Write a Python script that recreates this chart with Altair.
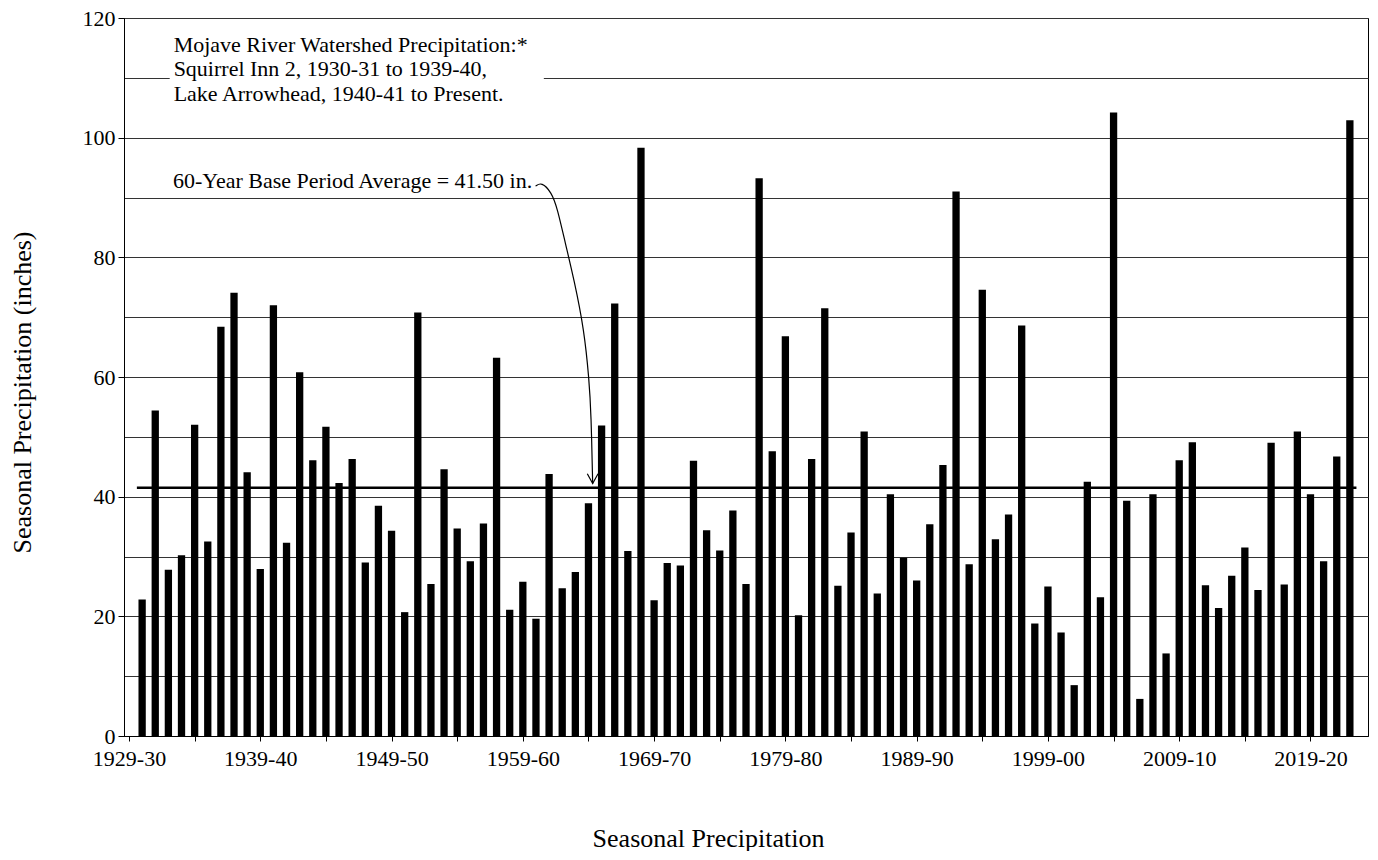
import altair as alt
import pandas as pd

# Seasons 1930-31 .. 2022-23 (start year of each season)
start_years = list(range(1930, 2023))
precip = [22.8, 54.4, 27.8, 30.2, 52.0, 32.5, 68.4, 74.1, 44.1, 27.9,
          72.0, 32.3, 60.8, 46.1, 51.7, 42.3, 46.3, 29.0, 38.5, 34.3,
          20.7, 70.8, 25.4, 44.6, 34.7, 29.2, 35.5, 63.2, 21.1, 25.8,
          19.6, 43.8, 24.7, 27.4, 38.9, 51.9, 72.3, 30.9, 98.3, 22.7,
          28.9, 28.5, 46.0, 34.4, 31.0, 37.7, 25.4, 93.2, 47.6, 66.8,
          20.2, 46.3, 71.5, 25.1, 34.0, 50.9, 23.8, 40.4, 29.8, 26.0,
          35.4, 45.3, 91.0, 28.7, 74.6, 32.9, 37.0, 68.6, 18.8, 25.0,
          17.3, 8.5, 42.5, 23.2, 104.2, 39.3, 6.2, 40.4, 13.8, 46.1,
          49.1, 25.2, 21.4, 26.8, 31.5, 24.4, 49.0, 25.3, 50.9, 40.4,
          29.2, 46.7, 102.9]

tick_years = [1929, 1939, 1949, 1959, 1969, 1979, 1989, 1999, 2009, 2019]
tick_labels = ["1929-30", "1939-40", "1949-50", "1959-60", "1969-70",
               "1979-80", "1989-90", "1999-00", "2009-10", "2019-20"]

average = 41.50
avg_span = [1929.6, 2022.5]

note_lines = ["Mojave River Watershed Precipitation:*",
              "Squirrel Inn 2, 1930-31 to 1939-40,",
              "Lake Arrowhead, 1940-41 to Present."]
avg_note = "60-Year Base Period Average = 41.50 in."

# arrow path (season start year, inches)
arrow_x = [1959.97, 1960.42, 1961.18, 1961.63, 1962.23, 1962.91, 1963.67, 1964.05, 1964.20, 1964.32]
arrow_y = [91.9, 92.6, 90.9, 88.2, 82.4, 76.2, 67.9, 59.5, 54.0, 42.2]

FONT = "Liberation Serif"

df = pd.DataFrame({"year": start_years, "precip": precip})
avg_df = pd.DataFrame({"x": [avg_span[0]], "x2": [avg_span[1]], "y": [average]})
arrow_df = pd.DataFrame({"x": arrow_x, "y": arrow_y, "i": list(range(len(arrow_x)))})
tip_df = arrow_df.tail(1)

x_scale = alt.Scale(domain=[1929, 2023], nice=False, zero=False)
y_scale = alt.Scale(domain=[0, 120], nice=False)

ty = "[" + ",".join(str(v) for v in tick_years) + "]"
tl = "[" + ",".join("'" + s + "'" for s in tick_labels) + "]"
x_label_expr = f"indexof({ty}, datum.value) >= 0 ? {tl}[indexof({ty}, datum.value)] : ''"

x_axis = alt.Axis(
    values=list(range(1929, 2024, 5)),
    labelExpr=x_label_expr,
    grid=False,
    tickSize=5,
    labelPadding=7,
    labelFontSize=22,
    labelFont=FONT,
    labelColor="black",
    labelOverlap=False,
    labelFlush=False,
    domainColor="black",
    tickColor="black",
    title="Seasonal Precipitation",
    titleFont=FONT,
    titleFontSize=26,
    titleFontWeight="normal",
    titleColor="black",
    titleX=584,
    titleY=110,
    titleAlign="center",
    titleBaseline="alphabetic",
)

y_axis = alt.Axis(
    values=list(range(0, 121, 10)),
    labelExpr="datum.value % 20 == 0 ? datum.label : ''",
    tickOpacity={"condition": {"test": "datum.value % 20 != 0", "value": 0}, "value": 1},
    grid=True,
    gridColor="#333333",
    gridWidth=1,
    tickSize=6,
    labelPadding=3,
    labelFontSize=22,
    labelFont=FONT,
    labelColor="black",
    domainColor="black",
    tickColor="black",
    title="Seasonal Precipitation (inches)",
    titleFont=FONT,
    titleFontSize=26,
    titleFontWeight="normal",
    titleColor="black",
    titleX=-102,
    titleY=374,
    titleAngle=-90,
    titleAlign="center",
    titleBaseline="middle",
)

bars = alt.Chart(df).mark_bar(color="black", size=7.3).encode(
    x=alt.X("year:Q", scale=x_scale, axis=x_axis),
    y=alt.Y("precip:Q", scale=y_scale, axis=y_axis),
)

avg_rule = alt.Chart(avg_df).mark_rule(color="black", strokeWidth=2.5).encode(
    x=alt.X("x:Q", scale=x_scale, axis=x_axis),
    x2="x2:Q",
    y=alt.Y("y:Q", scale=y_scale, axis=y_axis),
)

note_box = alt.Chart(avg_df).mark_rect(color="white").encode(
    x=alt.X("bx:Q", scale=x_scale, axis=x_axis),
    x2="bx2:Q",
    y=alt.Y("by:Q", scale=y_scale, axis=y_axis),
    y2="by2:Q",
).transform_calculate(bx="1932.1", bx2="1960.6", by="104", by2="117.5")

note_text = alt.Chart(avg_df).mark_text(
    text=note_lines, align="left", baseline="alphabetic", font=FONT,
    fontSize=22, lineHeight=24.5, color="black",
).encode(
    x=alt.X("tx:Q", scale=x_scale, axis=x_axis),
    y=alt.Y("ty:Q", scale=y_scale, axis=y_axis),
).transform_calculate(tx="1932.4", ty="114.4")

avg_text = alt.Chart(avg_df).mark_text(
    text=avg_note, align="left", baseline="alphabetic", font=FONT,
    fontSize=22, color="black",
).encode(
    x=alt.X("tx:Q", scale=x_scale, axis=x_axis),
    y=alt.Y("ty:Q", scale=y_scale, axis=y_axis),
).transform_calculate(tx="1932.35", ty="91.6")

arrow_line = alt.Chart(arrow_df).mark_line(
    color="black", strokeWidth=1.2, interpolate="basis"
).encode(
    x=alt.X("x:Q", scale=x_scale, axis=x_axis),
    y=alt.Y("y:Q", scale=y_scale, axis=y_axis),
    order="i:Q",
)

arrow_tip = alt.Chart(tip_df).mark_point(
    shape="M-0.55,-1L0,0L0.55,-1", size=380, filled=False,
    color="black", strokeWidth=1.2, opacity=1,
).encode(
    x=alt.X("x:Q", scale=x_scale, axis=x_axis),
    y=alt.Y("y:Q", scale=y_scale, axis=y_axis),
)

chart = alt.layer(
    bars, avg_rule, note_box, note_text, avg_text, arrow_line, arrow_tip
).properties(
    width=1244,
    height=718,
    autosize=alt.AutoSizeParams(type="none"),
    padding={"left": 116, "top": 10, "right": 2, "bottom": 115},
    background="white",
).configure_view(
    stroke="black", strokeWidth=1
)

chart.save("out.html", embed_options={"renderer": "svg", "actions": False})
